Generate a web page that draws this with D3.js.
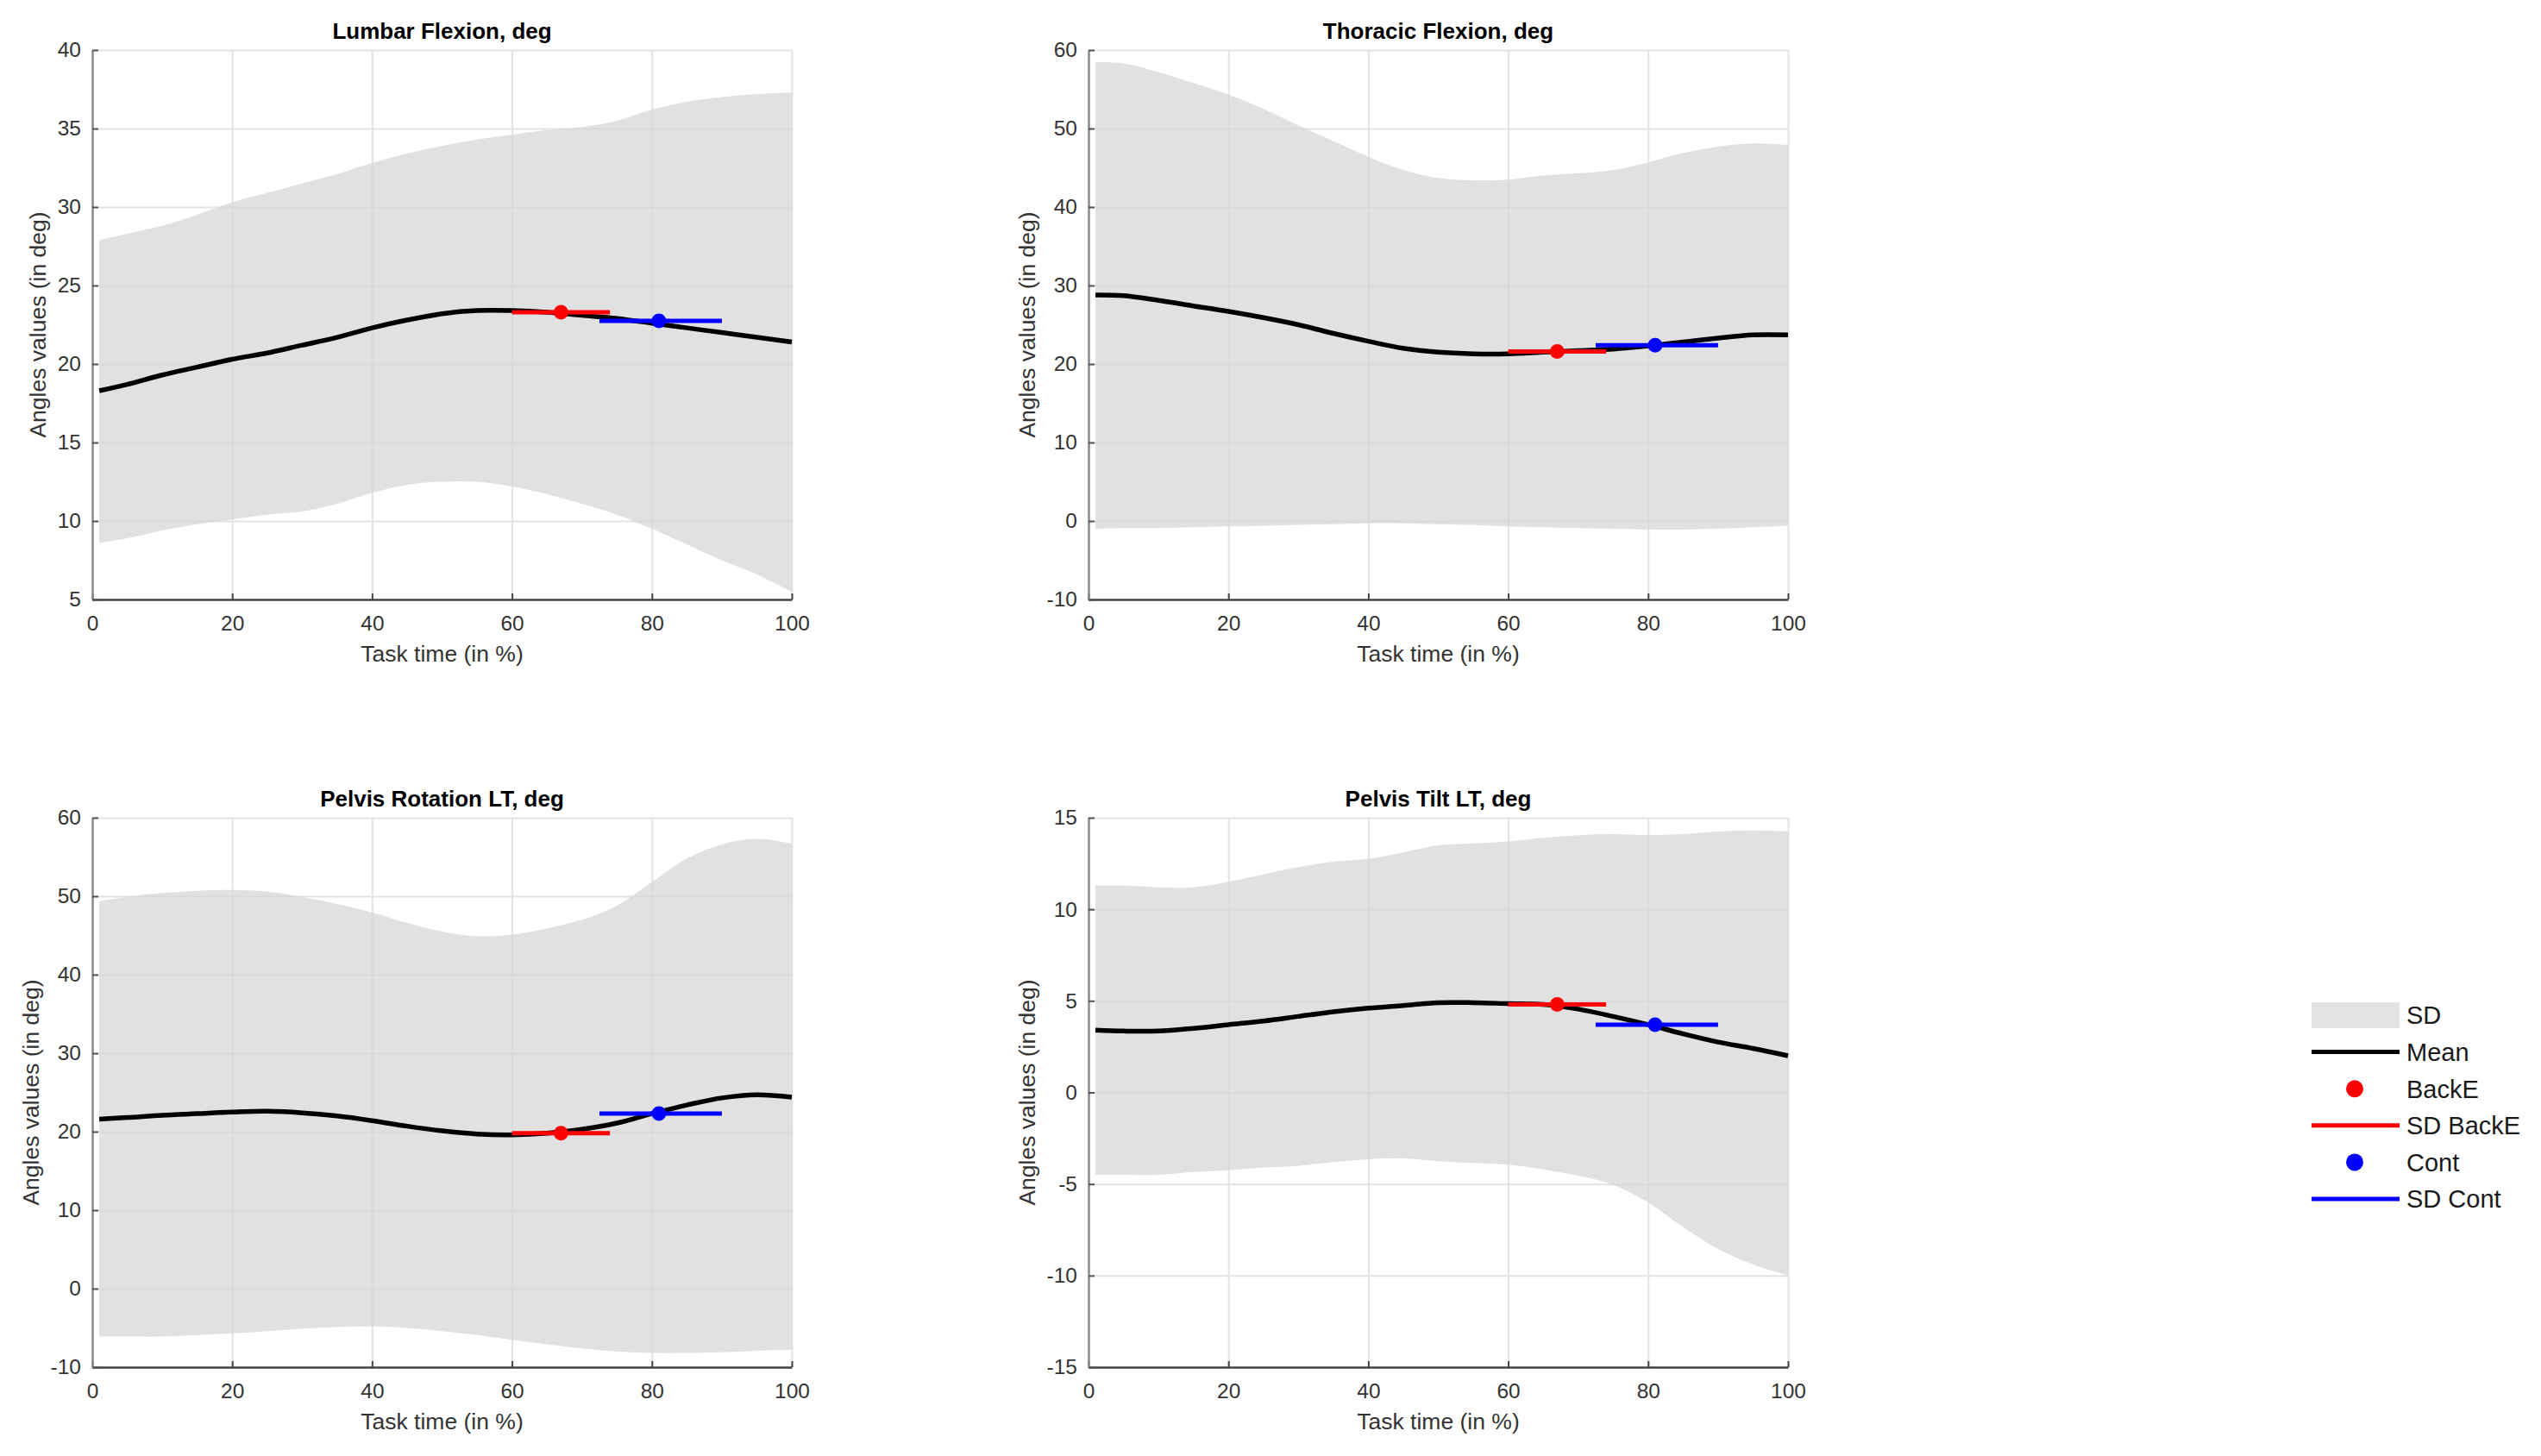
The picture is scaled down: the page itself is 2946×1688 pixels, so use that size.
<!DOCTYPE html>
<html>
<head>
<meta charset="utf-8">
<script src="https://cdn.jsdelivr.net/npm/d3@7"></script>
<style>
  body { margin: 0; background: #fff; }
  text { font-family: "Liberation Sans", Arial, Helvetica, sans-serif; }
</style>
</head>
<body>
<div id="chart"></div>
<script>
// task time samples (in %)
const taskTime = [1, 5, 10, 15, 20, 25, 30, 35, 40, 45, 50, 55, 60, 65, 70, 75, 80, 85, 90, 95, 100];
const xTicks = [0, 20, 40, 60, 80, 100];

// Lumbar Flexion
const lumbarMean  = [18.3, 18.7, 19.3, 19.8, 20.3, 20.7, 21.2, 21.7, 22.3, 22.8, 23.2, 23.4, 23.4, 23.3, 23.1, 22.9, 22.6, 22.3, 22.0, 21.7, 21.4];
const lumbarUpper = [27.9, 28.3, 28.8, 29.5, 30.3, 30.9, 31.5, 32.1, 32.8, 33.4, 33.9, 34.3, 34.6, 34.9, 35.1, 35.5, 36.2, 36.7, 37.0, 37.2, 37.3];
const lumbarLower = [8.6, 8.9, 9.4, 9.8, 10.1, 10.4, 10.6, 11.1, 11.8, 12.3, 12.5, 12.5, 12.2, 11.7, 11.1, 10.4, 9.5, 8.5, 7.5, 6.6, 5.5];
const lumbarTicks = [5, 10, 15, 20, 25, 30, 35, 40];

// Thoracic Flexion
const thoracicMean  = [28.8, 28.7, 28.1, 27.4, 26.7, 25.9, 25.0, 23.9, 22.9, 22.0, 21.5, 21.3, 21.3, 21.5, 21.7, 21.9, 22.3, 22.8, 23.3, 23.7, 23.7];
const thoracicUpper = [58.5, 58.3, 57.2, 55.8, 54.3, 52.5, 50.4, 48.4, 46.4, 44.7, 43.7, 43.4, 43.5, 44.0, 44.3, 44.7, 45.7, 46.9, 47.7, 48.1, 47.9];
const thoracicLower = [-1.0, -0.9, -0.9, -0.8, -0.7, -0.6, -0.5, -0.4, -0.3, -0.3, -0.4, -0.5, -0.7, -0.8, -0.9, -1.0, -1.1, -1.1, -1.0, -0.8, -0.6];
const thoracicTicks = [-10, 0, 10, 20, 30, 40, 50, 60];

// Pelvis Rotation LT
const rotationMean  = [21.6, 21.8, 22.1, 22.3, 22.5, 22.6, 22.4, 22.0, 21.4, 20.7, 20.1, 19.7, 19.6, 19.8, 20.3, 21.1, 22.3, 23.4, 24.3, 24.7, 24.4];
const rotationUpper = [49.4, 49.9, 50.4, 50.7, 50.8, 50.6, 49.9, 49.0, 47.9, 46.6, 45.5, 44.9, 45.1, 45.9, 47.0, 48.8, 51.8, 54.8, 56.6, 57.3, 56.7];
const rotationLower = [-6.1, -6.1, -6.1, -5.9, -5.7, -5.4, -5.1, -4.9, -4.8, -5.0, -5.4, -5.9, -6.5, -7.1, -7.6, -8.0, -8.2, -8.2, -8.1, -7.9, -7.8];
const rotationTicks = [-10, 0, 10, 20, 30, 40, 50, 60];

// Pelvis Tilt LT
const tiltMean  = [3.4, 3.35, 3.35, 3.5, 3.7, 3.9, 4.15, 4.4, 4.6, 4.75, 4.9, 4.9, 4.85, 4.8, 4.55, 4.15, 3.7, 3.2, 2.75, 2.4, 2.0];
const tiltUpper = [11.3, 11.3, 11.2, 11.2, 11.5, 11.9, 12.3, 12.6, 12.75, 13.1, 13.5, 13.6, 13.7, 13.9, 14.05, 14.1, 14.05, 14.1, 14.25, 14.3, 14.25];
const tiltLower = [-4.5, -4.5, -4.5, -4.35, -4.25, -4.1, -4.0, -3.8, -3.65, -3.6, -3.75, -3.85, -3.95, -4.2, -4.55, -5.05, -6.0, -7.35, -8.55, -9.4, -10.0];
const tiltTicks = [-15, -10, -5, 0, 5, 10, 15];

// group peaks: time (mean - SD, mean, mean + SD) and angle, per panel
const backETime = [60, 67, 74];
const contTime = [72.5, 81, 90];
const backEAngle = [23.3, 21.6, 19.8, 4.8];
const contAngle = [22.75, 22.4, 22.3, 3.7];

const panelTitles = ['Lumbar Flexion, deg', 'Thoracic Flexion, deg', 'Pelvis Rotation LT, deg', 'Pelvis Tilt LT, deg'];
const legendLabels = ['SD', 'Mean', 'BackE', 'SD BackE', 'Cont', 'SD Cont'];

const panels = [
  { title: panelTitles[0], mean: lumbarMean, upper: lumbarUpper, lower: lumbarLower, ticks: lumbarTicks, left: 107, top: 58 },
  { title: panelTitles[1], mean: thoracicMean, upper: thoracicUpper, lower: thoracicLower, ticks: thoracicTicks, left: 1262, top: 58 },
  { title: panelTitles[2], mean: rotationMean, upper: rotationUpper, lower: rotationLower, ticks: rotationTicks, left: 107, top: 948 },
  { title: panelTitles[3], mean: tiltMean, upper: tiltUpper, lower: tiltLower, ticks: tiltTicks, left: 1262, top: 948 }
];

const W = 2946, H = 1688;
const pw = 811, ph = 637;

const svg = d3.select('#chart')
  .append('svg')
  .attr('width', W)
  .attr('height', H);

const plainNum = d => String(d);

panels.forEach(function(p, i){
  const g = svg.append('g')
    .attr('transform', 'translate(' + p.left + ', ' + p.top + ')');

  const x = d3.scaleLinear().domain([0, 100]).range([0, pw]);
  const y = d3.scaleLinear().domain(d3.extent(p.ticks)).range([ph, 0]);

  // grid
  g.append('g')
    .attr('class', 'grid')
    .call(d3.axisBottom(x).tickValues(xTicks).tickSize(ph).tickFormat(''))
    .call(s => s.select('.domain').remove())
    .selectAll('line').attr('stroke', '#e3e3e3').attr('stroke-width', 2);
  g.append('g')
    .attr('class', 'grid')
    .call(d3.axisLeft(y).tickValues(p.ticks).tickSize(-pw).tickFormat(''))
    .call(s => s.select('.domain').remove())
    .selectAll('line').attr('stroke', '#e3e3e3').attr('stroke-width', 2);

  const pts = taskTime.map((t, k) => ({ t: t, m: p.mean[k], hi: p.upper[k], lo: p.lower[k] }));

  // SD band
  g.append('path')
    .datum(pts)
    .attr('fill', '#d6d6d6')
    .attr('fill-opacity', 0.72)
    .attr('d', d3.area()
      .x(d => x(d.t))
      .y0(d => y(d.lo))
      .y1(d => y(d.hi))
      .curve(d3.curveCatmullRom.alpha(0.5)));

  // mean curve
  g.append('path')
    .datum(pts)
    .attr('fill', 'none')
    .attr('stroke', '#000')
    .attr('stroke-width', 5.5)
    .attr('d', d3.line()
      .x(d => x(d.t))
      .y(d => y(d.m))
      .curve(d3.curveCatmullRom.alpha(0.5)));

  // group peaks
  [[backETime, backEAngle[i], '#ff0000'], [contTime, contAngle[i], '#0000ff']].forEach(function(gr){
    g.append('line')
      .attr('x1', x(gr[0][0]))
      .attr('x2', x(gr[0][2]))
      .attr('y1', y(gr[1]))
      .attr('y2', y(gr[1]))
      .attr('stroke', gr[2])
      .attr('stroke-width', 5);
    g.append('circle')
      .attr('cx', x(gr[0][1]))
      .attr('cy', y(gr[1]))
      .attr('r', 8.5)
      .attr('fill', gr[2]);
  });

  // axes
  const xAxis = g.append('g')
    .attr('class', 'x axis')
    .attr('transform', 'translate(0, ' + ph + ')')
    .call(d3.axisBottom(x).tickValues(xTicks).tickFormat(plainNum).tickSizeInner(-7).tickSizeOuter(0).tickPadding(19));
  xAxis.select('.domain').attr('stroke', '#444').attr('stroke-width', 2.5);
  xAxis.selectAll('line').attr('stroke', '#444').attr('stroke-width', 2);
  xAxis.selectAll('text').attr('font-size', '24.5px').attr('fill', '#333');

  const yAxis = g.append('g')
    .attr('class', 'y axis')
    .call(d3.axisLeft(y).tickValues(p.ticks).tickFormat(plainNum).tickSizeInner(-7).tickSizeOuter(0).tickPadding(13));
  yAxis.select('.domain').attr('stroke', '#8c8c8c').attr('stroke-width', 2.5);
  yAxis.selectAll('line').attr('stroke', '#555').attr('stroke-width', 2);
  yAxis.selectAll('text').attr('font-size', '24.5px').attr('fill', '#333');

  const yb = yAxis.node().getBBox();

  // title
  g.append('text')
    .attr('x', pw / 2)
    .attr('y', -13)
    .attr('text-anchor', 'middle')
    .attr('font-size', '26px')
    .attr('font-weight', 'bold')
    .attr('fill', '#000')
    .text(p.title);

  // X Label
  g.append('text')
    .attr('x', pw / 2)
    .attr('y', ph + 72)
    .attr('text-anchor', 'middle')
    .attr('font-size', '26.5px')
    .attr('fill', '#333')
    .text('Task time (in %)');

  // Y Label
  g.append('text')
    .attr('transform', 'translate(' + (yb.x - 14) + ', ' + (ph / 2) + ') rotate(-90)')
    .attr('text-anchor', 'middle')
    .attr('font-size', '26.5px')
    .attr('fill', '#333')
    .text('Angles values (in deg)');
});

// Legend
const leg = svg.append('g').attr('transform', 'translate(2680, 1177)');
const rowH = 42.6;
legendLabels.forEach(function(label, k){
  const row = leg.append('g').attr('transform', 'translate(0, ' + (k * rowH) + ')');
  if (k === 0) {
    row.append('rect').attr('x', 0).attr('y', -15).attr('width', 102).attr('height', 30).attr('fill', '#e3e3e3');
  } else if (k === 2 || k === 4) {
    row.append('circle').attr('cx', 50).attr('cy', 0).attr('r', 10).attr('fill', k === 2 ? '#ff0000' : '#0000ff');
  } else {
    row.append('line').attr('x1', 0).attr('x2', 102).attr('y1', 0).attr('y2', 0)
      .attr('stroke', k === 1 ? '#000' : (k === 3 ? '#ff0000' : '#0000ff'))
      .attr('stroke-width', 5);
  }
  row.append('text')
    .attr('x', 110)
    .attr('y', 0)
    .attr('dy', '0.36em')
    .attr('font-size', '29px')
    .attr('fill', '#1a1a1a')
    .text(label);
});
</script>
</body>
</html>
